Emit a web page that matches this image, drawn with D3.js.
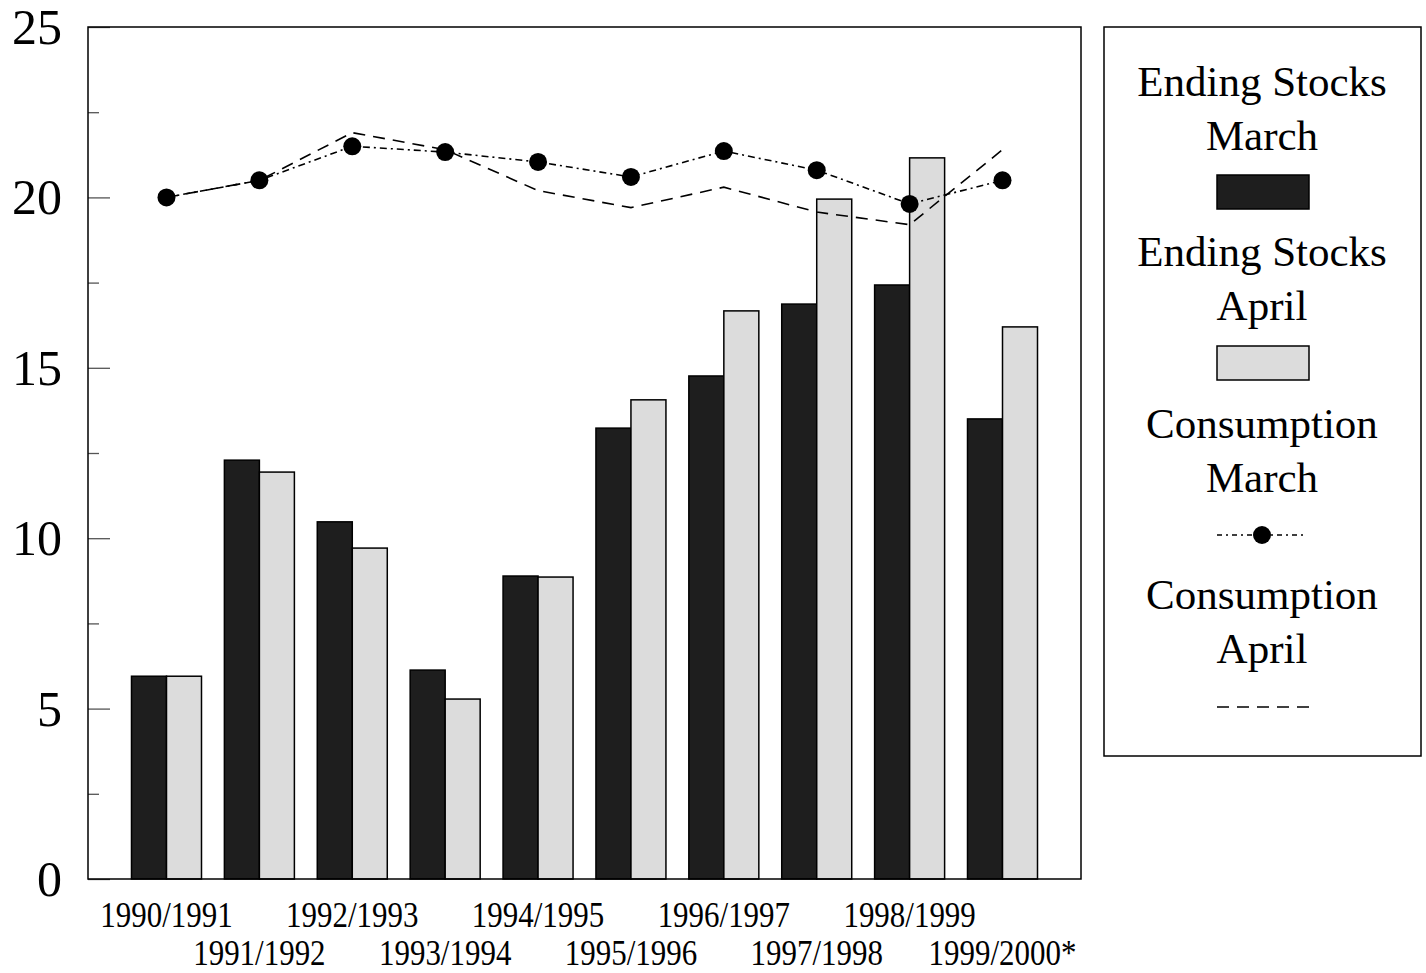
<!DOCTYPE html>
<html>
<head>
<meta charset="utf-8">
<script src="https://cdn.jsdelivr.net/npm/d3@7/dist/d3.min.js"></script>
<style>
  html, body { margin: 0; padding: 0; background: #fff; }
  svg { display: block; }
  text { font-family: "Liberation Serif", "DejaVu Serif", serif; fill: #000; }
</style>
</head>
<body>
<svg id="chart" width="1426" height="973"></svg>
<script>
const categories = ["1990/1991","1991/1992","1992/1993","1993/1994","1994/1995","1995/1996","1996/1997","1997/1998","1998/1999","1999/2000*"];
const stocksMarch = [5.95, 12.29, 10.48, 6.13, 8.89, 13.23, 14.76, 16.87, 17.43, 13.5];
const stocksApril = [5.95, 11.94, 9.71, 5.28, 8.86, 14.06, 16.67, 19.95, 21.16, 16.2];
const consMarch   = [20.0, 20.5, 21.5, 21.33, 21.04, 20.6, 21.36, 20.8, 19.81, 20.5];
const consApril   = [20.0, 20.5, 21.9, 21.4, 20.2, 19.7, 20.3, 19.57, 19.2, 21.4];
const yTicks = [0, 5, 10, 15, 20, 25];
const yMinorTicks = [2.5, 7.5, 12.5, 17.5, 22.5];

const svg = d3.select("#chart");
const plot = { left: 88, right: 1081, top: 27, bottom: 879 };

const x = d3.scalePoint().domain(categories).range([plot.left, plot.right]).padding(0.845);
const y = d3.scaleLinear().domain([0, 25]).range([plot.bottom, plot.top]);
const barW = 35;

const g = svg.append("g");

// bars
g.selectAll("rect.march").data(categories).join("rect")
  .attr("x", d => x(d) - barW)
  .attr("y", (d, i) => y(stocksMarch[i]))
  .attr("width", barW)
  .attr("height", (d, i) => y(0) - y(stocksMarch[i]))
  .attr("fill", "#1e1e1e").attr("stroke", "#000").attr("stroke-width", 1.5);

g.selectAll("rect.april").data(categories).join("rect")
  .attr("x", d => x(d))
  .attr("y", (d, i) => y(stocksApril[i]))
  .attr("width", barW)
  .attr("height", (d, i) => y(0) - y(stocksApril[i]))
  .attr("fill", "#dcdcdc").attr("stroke", "#000").attr("stroke-width", 1.5);

// lines
const lineGen = d3.line().x(d => x(d.c)).y(d => y(d.v));
const aprilPts = categories.map((c, i) => ({ c, v: consApril[i] }));
const marchPts = categories.map((c, i) => ({ c, v: consMarch[i] }));

g.append("path").datum(aprilPts).attr("d", lineGen)
  .attr("fill", "none").attr("stroke", "#000").attr("stroke-width", 1.6)
  .attr("stroke-dasharray", "12,8");

g.append("path").datum(marchPts).attr("d", lineGen)
  .attr("fill", "none").attr("stroke", "#000").attr("stroke-width", 1.6)
  .attr("stroke-dasharray", "7,4,2,4");

g.selectAll("circle.m").data(marchPts).join("circle")
  .attr("cx", d => x(d.c)).attr("cy", d => y(d.v)).attr("r", 9).attr("fill", "#000");

// y axis ticks (inside)
const yAxis = d3.axisRight(y).tickValues(yTicks).tickSize(22).tickFormat("");
const yg = svg.append("g").attr("transform", `translate(${plot.left},0)`).call(yAxis);
yg.select(".domain").remove();
yg.selectAll("line").attr("stroke", "#555").attr("stroke-width", 1.3);
const yMinor = d3.axisRight(y).tickValues(yMinorTicks).tickSize(11).tickFormat("");
const ymg = svg.append("g").attr("transform", `translate(${plot.left},0)`).call(yMinor);
ymg.select(".domain").remove();
ymg.selectAll("line").attr("stroke", "#555").attr("stroke-width", 1.3);

// y labels
svg.selectAll("text.ylab").data(yTicks).join("text")
  .attr("x", 62).attr("y", d => y(d) + 17)
  .attr("text-anchor", "end").attr("font-size", 50)
  .text(d => d);

// frame
svg.append("rect").attr("x", plot.left).attr("y", plot.top)
  .attr("width", plot.right - plot.left).attr("height", plot.bottom - plot.top)
  .attr("fill", "none").attr("stroke", "#000").attr("stroke-width", 1.5);

// x labels (two staggered rows, condensed)
svg.selectAll("text.xlab").data(categories).join("text")
  .attr("transform", (d, i) => `translate(${x(d)},${i % 2 === 0 ? 927 : 965}) scale(0.86,1)`)
  .attr("text-anchor", "middle").attr("font-size", 36)
  .text(d => d);

// legend
const lg = svg.append("g");
lg.append("rect").attr("x", 1104).attr("y", 27).attr("width", 317).attr("height", 729)
  .attr("fill", "#fff").attr("stroke", "#000").attr("stroke-width", 1.5);
const lcx = 1262;
const legendTexts = [
  ["Ending Stocks", 96], ["March", 150],
  ["Ending Stocks", 266], ["April", 320],
  ["Consumption", 438], ["March", 492],
  ["Consumption", 609], ["April", 663]
];
lg.selectAll("text").data(legendTexts).join("text")
  .attr("x", lcx).attr("y", d => d[1]).attr("text-anchor", "middle")
  .attr("font-size", 43).text(d => d[0]);
lg.append("rect").attr("x", 1217).attr("y", 175).attr("width", 92).attr("height", 34)
  .attr("fill", "#1e1e1e").attr("stroke", "#000").attr("stroke-width", 1.5);
lg.append("rect").attr("x", 1217).attr("y", 346).attr("width", 92).attr("height", 34)
  .attr("fill", "#dcdcdc").attr("stroke", "#000").attr("stroke-width", 1.5);
lg.append("line").attr("x1", 1217).attr("x2", 1307).attr("y1", 535).attr("y2", 535)
  .attr("stroke", "#000").attr("stroke-width", 1.6).attr("stroke-dasharray", "5,4,2,4");
lg.append("circle").attr("cx", 1262).attr("cy", 535).attr("r", 9).attr("fill", "#000");
lg.append("line").attr("x1", 1217).attr("x2", 1310).attr("y1", 707).attr("y2", 707)
  .attr("stroke", "#000").attr("stroke-width", 1.6).attr("stroke-dasharray", "12,8");
</script>
</body>
</html>
